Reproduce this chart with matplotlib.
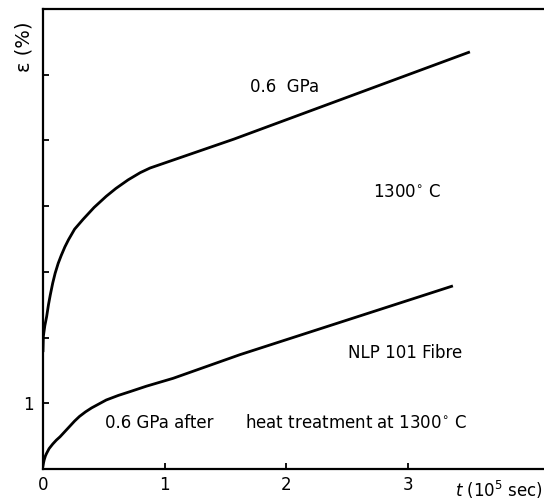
import matplotlib
matplotlib.use("Agg")
import matplotlib.pyplot as plt

# creep strain vs time, NLP 101 fibre at 1300 C
t_asrec = [0.0, 0.003, 0.015, 0.03, 0.045, 0.06, 0.08, 0.10, 0.125, 0.15, 0.18, 0.21,
           0.26, 0.33, 0.42, 0.52, 0.60, 0.70, 0.80, 0.88, 1.57, 3.50]
eps_asrec = [1.80, 2.02, 2.18, 2.32, 2.50, 2.65, 2.83, 2.98, 3.13, 3.25, 3.38, 3.49,
             3.65, 3.80, 3.98, 4.15, 4.27, 4.40, 4.51, 4.58, 5.02, 6.34]

t_heat = [0.0, 0.005, 0.01, 0.02, 0.03, 0.05, 0.08, 0.11, 0.14, 0.18, 0.22, 0.26,
          0.30, 0.35, 0.40, 0.46, 0.52, 0.62, 0.72, 0.85, 1.07, 1.62, 3.36]
eps_heat = [0.05, 0.10, 0.14, 0.20, 0.24, 0.31, 0.38, 0.44, 0.49, 0.57, 0.65, 0.73,
            0.80, 0.87, 0.93, 0.99, 1.05, 1.12, 1.18, 1.26, 1.38, 1.74, 2.78]

x_ticks = [0, 1, 2, 3]
y_ticks = [1, 2, 3, 4, 5, 6]
y_tick_labels = ["1", "", "", "", "", ""]

LW = 2.0
FS = 12

fig = plt.figure(figsize=(5.44, 5.01), dpi=100)
ax = fig.add_axes([43 / 544, 1 - 469 / 501, 1 - 43 / 544, (469 - 9) / 501])

ax.plot(t_asrec, eps_asrec, color="black", linewidth=LW, solid_joinstyle="round")
ax.plot(t_heat, eps_heat, color="black", linewidth=LW, solid_joinstyle="round")

ax.set_xlim(0, 4.12)
ax.set_ylim(0, 7.0)
ax.set_xticks(x_ticks)
ax.set_xticklabels([str(v) for v in x_ticks], fontsize=FS)
ax.set_yticks(y_ticks)
ax.set_yticklabels(y_tick_labels, fontsize=FS)
ax.tick_params(direction="in", length=4, width=1.3, pad=5)
ax.tick_params(axis="y", pad=7)

for side in ("left", "bottom", "top"):
    ax.spines[side].set_linewidth(1.6)
ax.spines["right"].set_visible(False)

ax.text(1.70, 5.82, "0.6  GPa", fontsize=FS, va="center", ha="left")
ax.text(2.71, 4.22, "1300$^{\\circ}$ C", fontsize=FS, va="center", ha="left")
ax.text(2.51, 1.77, "NLP 101 Fibre", fontsize=FS, va="center", ha="left")
ax.text(0.51, 0.70, "0.6 GPa after", fontsize=FS, va="center", ha="left")
ax.text(1.66, 0.70, "heat treatment at 1300$^{\\circ}$ C", fontsize=FS, va="center", ha="left")

# axis labels placed like the original drawing
fig.text(24 / 544, 1 - 47 / 501, "ε (%)", fontsize=14, rotation=90, ha="center", va="center")
fig.text(455 / 544, 1 - 490 / 501, "$t$ (10$^5$ sec)", fontsize=FS, ha="left", va="center")

fig.savefig("out.png", dpi=100)
